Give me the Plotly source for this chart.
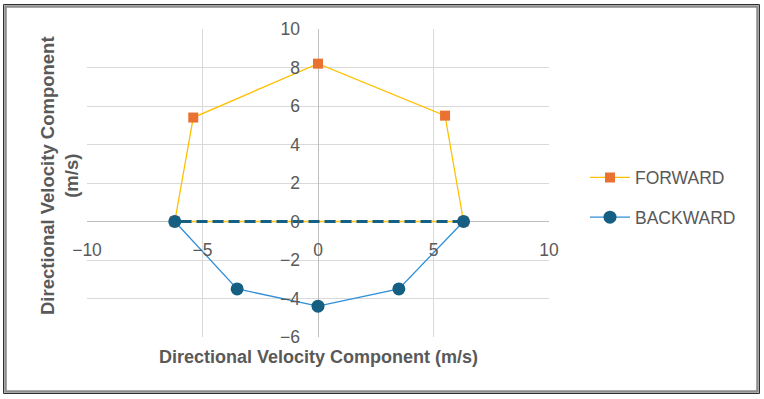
import plotly.graph_objects as go

# Data
forward_x = [-6.2, -5.4, 0.0, 5.5, 6.3, -6.2]
forward_y = [0.0, 5.4, 8.2, 5.5, 0.0, 0.0]
backward_x = [-6.2, -3.5, 0.0, 3.5, 6.3]
backward_y = [0.0, -3.5, -4.4, -3.5, 0.0]
closing_x = [6.3, -6.2]
closing_y = [0.0, 0.0]

x_ticks = [-10, -5, 0, 5, 10]
y_ticks = [-6, -4, -2, 0, 2, 4, 6, 8, 10]

W, H = 764, 399
L, R, T, B = 87, 215, 29, 62
pw, ph = W - L - R, H - T - B

def px(xp):
    return (xp - L) / pw

def py(yp):
    return (H - B - yp) / ph

grey = "#595959"
font = "Liberation Sans, Arial, sans-serif"

fig = go.Figure()
fig.add_trace(go.Scatter(
    x=forward_x, y=forward_y, mode="lines+markers", name="FORWARD",
    line=dict(color="#FFC000", width=1.3),
    marker=dict(symbol="square", size=10, color="#E97132"),
    legendgroup="f",
))
fig.add_trace(go.Scatter(
    x=backward_x, y=backward_y, mode="lines+markers", name="BACKWARD",
    line=dict(color="#2E8FD8", width=1.3),
    marker=dict(symbol="circle", size=13, color="#156082"),
    legendgroup="b",
))
fig.add_trace(go.Scatter(
    x=closing_x, y=closing_y, mode="lines", showlegend=False,
    line=dict(color="#156082", width=3, dash="11px,5px"),
    hoverinfo="skip",
))

fig.update_layout(
    width=W, height=H,
    margin=dict(l=L, r=R, t=T, b=B),
    paper_bgcolor="white", plot_bgcolor="white",
    font=dict(family=font, color=grey, size=17),
    xaxis=dict(
        range=[-10, 10], tickvals=x_ticks, showgrid=True, gridcolor="#d9d9d9",
        zeroline=True, zerolinecolor="#bfbfbf", zerolinewidth=1,
        anchor="free", position=6 / 16, ticks="", ticklabelstandoff=16,
        tickfont=dict(size=17.5, color=grey), showline=False, fixedrange=True,
    ),
    yaxis=dict(
        range=[-6, 10], tickvals=y_ticks, showgrid=True, gridcolor="#d9d9d9",
        zeroline=True, zerolinecolor="#bfbfbf", zerolinewidth=1,
        anchor="free", position=0.5, ticks="", ticklabelstandoff=18,
        tickfont=dict(size=17.5, color=grey), showline=False, fixedrange=True,
    ),
    legend=dict(
        x=px(585), y=py(197.5), xanchor="left", yanchor="middle",
        font=dict(size=17.5, color=grey), tracegroupgap=14, itemwidth=40,
        bgcolor="rgba(0,0,0,0)",
    ),
    annotations=[
        dict(text="<b>Directional Velocity Component (m/s)</b>", xref="paper", yref="paper",
             x=0.5, y=py(357), xanchor="center", yanchor="middle", showarrow=False,
             font=dict(size=18, color=grey, family=font)),
        dict(text="<b>Directional Velocity Component<br>(m/s)</b>", xref="paper", yref="paper",
             x=px(59), y=py(176), xanchor="center", yanchor="middle", showarrow=False,
             textangle=-90, font=dict(size=18.5, color=grey, family=font)),
    ],
    shapes=[
        dict(type="rect", xref="paper", yref="paper", layer="above",
             x0=px(3.5), x1=px(759.5), y0=py(393.5), y1=py(4.5),
             line=dict(color="#303030", width=1)),
        dict(type="rect", xref="paper", yref="paper", layer="above",
             x0=px(5.5), x1=px(757.5), y0=py(391.5), y1=py(6.5),
             line=dict(color="#8c8c8c", width=2.5)),
    ],
)

fig.write_html("out.html")
